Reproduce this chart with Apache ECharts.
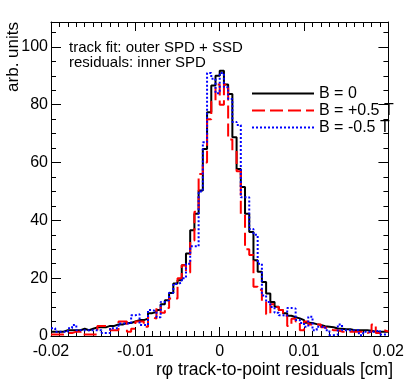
<!DOCTYPE html>
<html>
<head>
<meta charset="utf-8">
<script src="https://cdn.jsdelivr.net/npm/echarts@6/dist/echarts.min.js"></script>
<style>
html,body{margin:0;padding:0;background:#fff;}
#c{width:407px;height:385px;}
</style>
</head>
<body>
<div id="c"></div>
<script>
// Histogram binning
const binLow = -0.02;
const binWidth = 0.0005;
const xTickLabels = ["-0.02", "-0.01", "0", "0.01", "0.02"];
const yTickLabels = ["0", "20", "40", "60", "80", "100"];
const seriesNames = ["B = 0", "B = +0.5 T", "B = -0.5 T"];

// Bin contents (80 bins from -0.02 to 0.02)
const valuesB0 = [
  1.5,1.5,1.5,2,2,2,2,2.5,2,2.5,
  3,3,3,3.5,3.5,4,4,4.5,4.5,5,
  5.5,5.5,6,7.9,8.3,9,11,12.4,14.9,18.2,
  19.3,24.5,28.5,36.6,42.3,50.3,64.7,77.4,86.6,90,
  91.7,87,83.7,68.7,57.8,51.5,42.3,36,26.2,22.2,
  18.7,14.7,11.8,10.1,9,7.9,7,6.5,6.1,5.5,
  4.6,4.5,4.1,3.8,3.4,3.2,3,2.6,2.5,2.3,
  2.3,2,2,2,2,1.8,1.5,1.5,1.5,1.5
];
const valuesBplus = [
  0.5,0.5,0.5,1,1,1.5,1.5,0.5,0.5,0.5,
  0.5,3.5,3.5,3,2,2,5,5,1.5,2.5,
  5,5,3.2,6.5,6,10,8,9.7,13,13,
  20,24.5,22,33,43,56,60,75,81,87,
  80,87,68,64,57,42,30,28,17,16,
  12,7.5,11,10,9,7,3.5,6,5,2,
  5,4,4,4,3,2.5,2,2,1.5,1.5,
  1.5,1.5,1.5,1.5,1,1.5,4,1,2,1.5
];
const valuesBminus = [
  2.7,1.5,1.5,1.5,2.7,3.8,2,2,2,2,
  2,2,1,1,2.7,2.7,4.3,4.3,4.3,7.2,
  7.5,3.8,3.8,9,8.5,6.5,11.8,12.4,15,18,
  18.5,20,25,31,31,50,67,91,89,84,
  91,86,82,74,73,48,48,37,35,25,
  14,11.8,10,8,7.2,7,9.7,9.5,5.5,4.5,
  3.2,6.7,2,3.2,3.2,2,0.3,0.5,4,2,
  2,2,2,0.3,1.5,1.5,1.5,2,0.5,0.5
];

function toSteps(vals){
  const pts = vals.map((v,i)=>[binLow + i*binWidth, v]);
  pts.push([binLow + vals.length*binWidth, vals[vals.length-1]]);
  return pts;
}

const FONT = '"Liberation Sans", Arial, Helvetica, sans-serif';
const chart = echarts.init(document.getElementById('c'), null, {renderer:'canvas'});

function xAx(pos, labels){
  return {
    type:'value', position:pos, min:-0.02, max:0.02, interval:0.01,
    axisLine:{show:true, onZero:false, lineStyle:{color:'#000', width:1}},
    axisTick:{show:true, inside:true, length:9, lineStyle:{color:'#000'}},
    minorTick:{show:true, splitNumber:10, length:5, lineStyle:{color:'#000'}},
    splitLine:{show:false},
    axisLabel:{show:labels, margin:8, fontSize:16, fontFamily:FONT, color:'#000',
      formatter:(v)=>{const i=Math.round((v+0.02)/0.01); return xTickLabels[i] ?? '';}}
  };
}
function yAx(pos, labels){
  return {
    type:'value', position:pos, min:0, max:108.6, interval:20,
    axisLine:{show:true, onZero:false, lineStyle:{color:'#000', width:1}},
    axisTick:{show:true, inside:true, length:10, lineStyle:{color:'#000'}},
    minorTick:{show:true, splitNumber:4, length:5, lineStyle:{color:'#000'}},
    splitLine:{show:false},
    axisLabel:{show:labels, margin:3, fontSize:16, fontFamily:FONT, color:'#000',
      formatter:(v)=>{const i=Math.round(v/20); return (Math.abs(v-i*20)<1e-6 && yTickLabels[i]) ? yTickLabels[i] : '';}}
  };
}

chart.setOption({
  animation:false,
  backgroundColor:'#fff',
  grid:{left:51, right:14, top:22, bottom:49, containLabel:false},
  title:{
    text:'track fit: outer SPD + SSD\nresiduals: inner SPD',
    left:64, top:35,
    textStyle:{fontSize:15, fontWeight:'normal', fontFamily:FONT, color:'#000', lineHeight:15}
  },
  legend:{
    orient:'vertical', left:246, top:80, itemWidth:62, itemHeight:14, itemGap:0,
    itemStyle:{opacity:0},
    textStyle:{fontSize:16, fontFamily:FONT, color:'#000', lineHeight:17},
    data:seriesNames
  },
  xAxis:[xAx('bottom', true), xAx('top', false)],
  yAxis:[yAx('left', true), yAx('right', false)],
  graphic:[
    {type:'text', x:13, y:22, rotation:Math.PI/2,
      style:{text:'arb. units', align:'right', verticalAlign:'middle', font:'17px ' + FONT, fill:'#000'}},
    {type:'text', x:393, y:370,
      style:{text:'rφ track-to-point residuals [cm]', align:'right', verticalAlign:'middle', font:'17.5px ' + FONT, fill:'#000'}}
  ],
  series:[
    {name:seriesNames[0], type:'line', step:'end', symbol:'none', data:toSteps(valuesB0),
      lineStyle:{color:'#000', width:2, type:'solid'}, itemStyle:{color:'#000'}},
    {name:seriesNames[1], type:'line', step:'end', symbol:'none', data:toSteps(valuesBplus),
      lineStyle:{color:'#ff0000', width:2, type:[13,5]}, itemStyle:{color:'#ff0000'}},
    {name:seriesNames[2], type:'line', step:'end', symbol:'none', data:toSteps(valuesBminus),
      lineStyle:{color:'#0000ff', width:2, type:[2,2]}, itemStyle:{color:'#0000ff'}}
  ]
});
</script>
</body>
</html>
